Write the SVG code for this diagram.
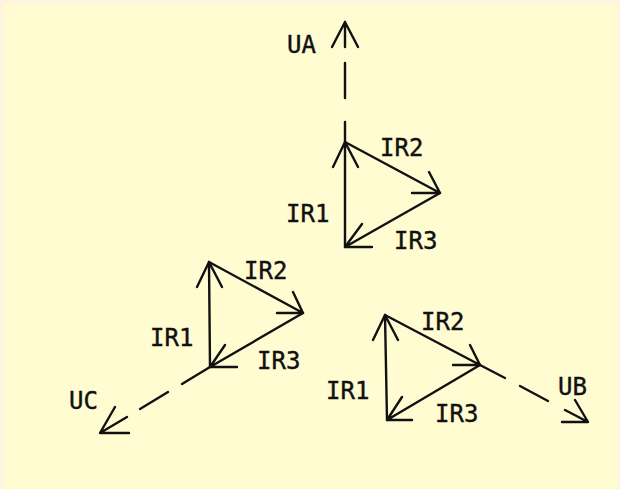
<svg xmlns="http://www.w3.org/2000/svg" width="620" height="489" viewBox="0 0 620 489">
  <style>
    .ln { fill: none; stroke: #111; stroke-width: 2.4; stroke-linecap: round; stroke-linejoin: round; }
    .lb { font-family: "DejaVu Sans Mono", "Liberation Mono", monospace; font-size: 24px; fill: #111; stroke: #111; stroke-width: 0.4; }
  </style>
  <rect x="0" y="0" width="620" height="489" fill="#FFF4DE"/>
  <rect x="4" y="4" width="613" height="485" fill="#FFFCD2"/>

  <g id="connectors">
    <!-- UA dashed phasor -->
    <path class="ln" d="M345,142 L345,122 M345,98 L345,63 M345,47 L345,22 M332,47 L345,22 L358,47"/>
    <!-- UC dashed phasor -->
    <path class="ln" d="M210,367 L182,384 M168,392 L140,409 M127,417 L100,433 M115,407 L100,433 L129,433"/>
    <!-- UB dashed phasor -->
    <path class="ln" d="M480,365 L505,378 M520,386 L548,401 M565,410 L588,422 M562,422 L588,422 L575,400"/>
  </g>

  <g id="phase-a">
    <path class="ln" d="M345,247 L345,142 M333,167 L345,142 L358,167"/>
    <path class="ln" d="M345,142 L440,193 M412,193 L440,193 L429,172"/>
    <path class="ln" d="M440,193 L345,247 M372,247 L345,247 L362,224"/>
    <text class="lb" x="286" y="222">IR1</text>
    <text class="lb" x="380" y="156">IR2</text>
    <text class="lb" x="394" y="249">IR3</text>
    <text class="lb" x="287" y="53">UA</text>
  </g>

  <g id="phase-c">
    <path class="ln" d="M210,367 L209,262 M197,287 L209,262 L222,287"/>
    <path class="ln" d="M209,262 L303,313 M277,313 L303,313 L293,292"/>
    <path class="ln" d="M303,313 L210,367 M237,367 L210,367 L225,345"/>
    <text class="lb" x="150" y="346">IR1</text>
    <text class="lb" x="244" y="279">IR2</text>
    <text class="lb" x="257" y="369">IR3</text>
    <text class="lb" x="69" y="409">UC</text>
  </g>

  <g id="phase-b">
    <path class="ln" d="M387,420 L385,315 M373,340 L385,315 L398,340"/>
    <path class="ln" d="M385,315 L480,365 M453,365 L480,365 L470,345"/>
    <path class="ln" d="M480,365 L387,420 M412,420 L387,420 L402,397"/>
    <text class="lb" x="326" y="399">IR1</text>
    <text class="lb" x="421" y="330">IR2</text>
    <text class="lb" x="435" y="422">IR3</text>
    <text class="lb" x="558" y="395">UB</text>
  </g>
</svg>
